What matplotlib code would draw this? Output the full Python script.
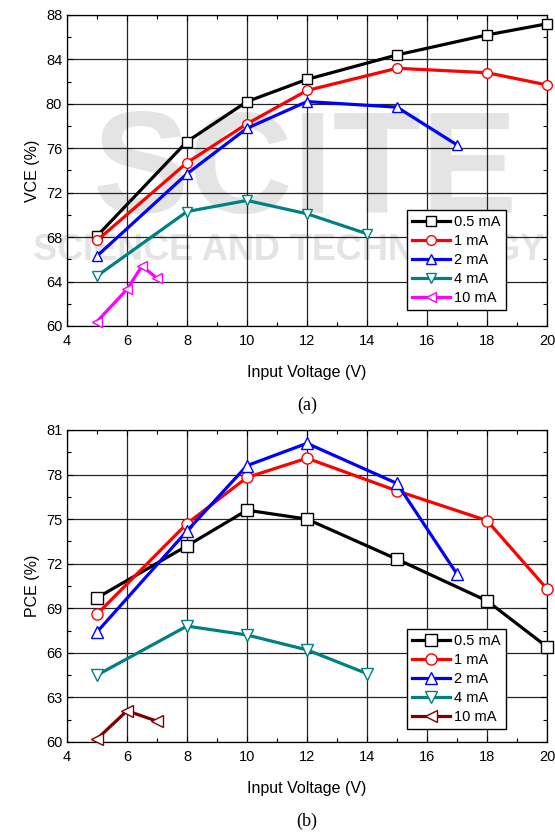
import numpy as np
import matplotlib.pyplot as plt
from matplotlib.ticker import MultipleLocator

# ---------------- data ----------------
labels = ["0.5 mA", "1 mA", "2 mA", "4 mA", "10 mA"]

x_05 = [5, 8, 10, 12, 15, 18, 20]
x_1 = [5, 8, 10, 12, 15, 18, 20]
x_2 = [5, 8, 10, 12, 15, 17]
x_4 = [5, 8, 10, 12, 14]
x_10a = [5, 6, 6.5, 7]
x_10b = [5, 6, 7]

vce_05 = [68.1, 76.6, 80.2, 82.2, 84.4, 86.2, 87.2]
vce_1 = [67.7, 74.7, 78.2, 81.2, 83.2, 82.8, 81.7]
vce_2 = [66.3, 73.7, 77.8, 80.2, 79.7, 76.3]
vce_4 = [64.5, 70.3, 71.3, 70.1, 68.3]
vce_10 = [60.4, 63.3, 65.4, 64.3]

pce_05 = [69.7, 73.2, 75.6, 75.0, 72.3, 69.5, 66.4]
pce_1 = [68.6, 74.7, 77.8, 79.1, 76.9, 74.9, 70.3]
pce_2 = [67.4, 74.2, 78.6, 80.1, 77.4, 71.3]
pce_4 = [64.5, 67.8, 67.2, 66.2, 64.6]
pce_10 = [60.2, 62.1, 61.4]

colors_a = ["black", "#ff0000", "#0000ff", "#008080", "#ff00ff"]
colors_b = ["black", "#ff0000", "#0000ff", "#008080", "#800000"]
markers = ["s", "o", "^", "v", "<"]

plt.rcParams["font.family"] = ["Liberation Sans", "DejaVu Sans"]

fig = plt.figure(figsize=(5.55, 8.35), dpi=100, facecolor="white")

# faint watermark, kept behind the axes
fig.text(0.55, 0.79, "SCITE", fontsize=104, fontweight="bold", color="#e4e4e4",
         ha="center", va="center", zorder=-5)
fig.text(0.52, 0.70, "SCIENCE AND TECHNOLOGY", fontsize=26, fontweight="bold",
         color="#e4e4e4", ha="center", va="center", zorder=-5)

ax1 = fig.add_axes([0.1207, 0.6096, 0.8649, 0.3725])
ax2 = fig.add_axes([0.1207, 0.1114, 0.8649, 0.3737])


def style_axes(ax, ymin, ymax, ystep, ylabel, letter):
    ax.set_facecolor("none")
    ax.set_xlim(4, 20)
    ax.set_ylim(ymin, ymax)
    ax.xaxis.set_major_locator(MultipleLocator(2))
    ax.xaxis.set_minor_locator(MultipleLocator(1))
    ax.yaxis.set_major_locator(MultipleLocator(ystep))
    ax.yaxis.set_minor_locator(MultipleLocator(ystep / 2))
    ax.tick_params(which="both", direction="in", top=True, right=True,
                   labelsize=10.5, width=0.8)
    ax.tick_params(axis="x", pad=6)
    ax.tick_params(which="major", length=4)
    ax.tick_params(which="minor", length=3)
    ax.grid(True, which="major", color="black", linewidth=0.9, alpha=0.85)
    ax.set_axisbelow(True)
    for sp in ax.spines.values():
        sp.set_linewidth(0.9)
    ax.set_xlabel("Input Voltage (V)", fontsize=11.5, labelpad=12)
    ax.set_ylabel(ylabel, fontsize=11.5, labelpad=4)
    ax.text(0.5, -0.255, letter, transform=ax.transAxes, ha="center",
            va="center", fontsize=13, family="Liberation Serif")


# ---------------- panel (a) ----------------
series_a = [(x_05, vce_05), (x_1, vce_1), (x_2, vce_2), (x_4, vce_4), (x_10a, vce_10)]
for (xs, ys), c, m, lab in zip(series_a, colors_a, markers, labels):
    ax1.plot(xs, ys, color=c, lw=2.3, marker=m, ms=7, mfc="white",
             mec=c, mew=1.0, label=lab, clip_on=False, zorder=3)
style_axes(ax1, 60, 88, 4, "VCE (%)", "(a)")
ax1.legend(loc="lower left", bbox_to_anchor=(0.708, 0.05), fontsize=10.5,
           frameon=True, fancybox=False, edgecolor="black", framealpha=1,
           handlelength=2.6, handletextpad=0.3, borderpad=0.35,
           labelspacing=0.35, borderaxespad=0)

# ---------------- panel (b) ----------------
series_b = [(x_05, pce_05), (x_1, pce_1), (x_2, pce_2), (x_4, pce_4), (x_10b, pce_10)]
for (xs, ys), c, m, lab in zip(series_b, colors_b, markers, labels):
    ax2.plot(xs, ys, color=c, lw=2.3, marker=m, ms=8, mfc="white",
             mec=c, mew=1.0, label=lab, clip_on=False, zorder=3)
style_axes(ax2, 60, 81, 3, "PCE (%)", "(b)")
ax2.legend(loc="lower left", bbox_to_anchor=(0.708, 0.04), fontsize=10.5,
           frameon=True, fancybox=False, edgecolor="black", framealpha=1,
           handlelength=2.6, handletextpad=0.3, borderpad=0.35,
           labelspacing=0.35, borderaxespad=0)

plt.savefig("out.png", dpi=100, facecolor="white")
